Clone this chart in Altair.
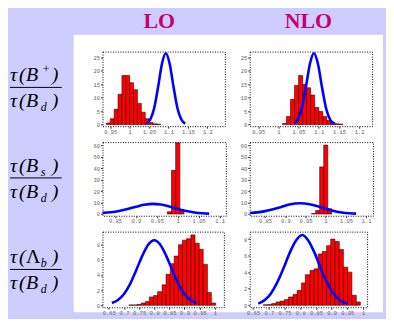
import altair as alt
import pandas as pd

# ---------------- data ----------------
# Row 1 : tau(B+)/tau(Bd)
bp_lo_start = [0.94, 0.95, 0.96, 0.97, 0.98, 0.99, 1.00, 1.01, 1.02, 1.03, 1.04, 1.05, 1.06, 1.07]
bp_lo_count = [0.6, 2.2, 5.7, 11.3, 18.3, 18.3, 15.6, 13.0, 7.9, 4.6, 2.2, 0.8, 0.3, 0.2]
bp_lo_cx = [1.044, 1.053, 1.063, 1.073, 1.083, 1.093, 1.103, 1.113, 1.123, 1.133, 1.143]
bp_lo_cy = [0.4, 1.9, 6.1, 13.9, 22.6, 26.6, 22.6, 13.9, 6.1, 1.9, 0.4]

bp_nlo_start = [1.01, 1.02, 1.03, 1.04, 1.05, 1.06, 1.07, 1.08, 1.09, 1.10, 1.11, 1.12, 1.13, 1.14, 1.15]
bp_nlo_count = [0.4, 3.0, 9.4, 14.6, 18.3, 15.0, 13.7, 11.0, 6.4, 4.9, 3.0, 1.5, 0.9, 0.3, 0.2]
bp_nlo_cx = [1.039, 1.048, 1.058, 1.068, 1.078, 1.088, 1.098, 1.108, 1.118, 1.128, 1.138]
bp_nlo_cy = [0.4, 1.9, 6.1, 13.9, 22.6, 26.6, 22.6, 13.9, 6.1, 1.9, 0.4]

# Row 2 : tau(Bs)/tau(Bd)
bs_lo_start = [0.975, 0.985, 0.995, 1.005]
bs_lo_count = [2.0, 38.0, 62.0, 4.0]
bs_lo_cx = [0.82, 0.84, 0.86, 0.88, 0.90, 0.92, 0.94, 0.96, 0.98, 1.00, 1.02, 1.04, 1.06, 1.075]
bs_lo_cy = [1.0, 1.6, 2.7, 4.3, 6.3, 8.0, 8.8, 8.2, 6.6, 4.4, 2.6, 1.3, 0.6, 0.3]

bs_nlo_start = [0.965, 0.975, 0.985, 0.995, 1.005]
bs_nlo_count = [0.5, 3.0, 41.0, 60.0, 4.5]
bs_nlo_cx = [0.813, 0.83, 0.85, 0.87, 0.89, 0.91, 0.936, 0.96, 0.98, 1.00, 1.02, 1.04, 1.06, 1.075]
bs_nlo_cy = [0.8, 1.4, 2.5, 4.1, 6.1, 8.2, 9.3, 8.5, 6.8, 4.6, 2.7, 1.3, 0.6, 0.3]

# Row 3 : tau(Lambda_b)/tau(Bd)
lb_lo_start = [0.716, 0.730, 0.743, 0.757, 0.771, 0.784, 0.798, 0.811, 0.826, 0.839, 0.853,
               0.866, 0.880, 0.893, 0.907, 0.921, 0.935, 0.948, 0.962, 0.975, 0.989]
lb_lo_count = [0.05, 0.05, 0.1, 0.3, 0.5, 1.1, 1.3, 1.8, 2.7, 4.1, 5.5,
               6.5, 8.0, 8.6, 8.8, 9.3, 8.2, 7.4, 5.4, 1.7, 0.3]
lb_lo_cx = [0.66, 0.68, 0.70, 0.72, 0.74, 0.76, 0.78, 0.80, 0.82, 0.84, 0.86, 0.88, 0.90, 0.92, 0.94]
lb_lo_cy = [0.3, 0.7, 1.5, 2.8, 4.6, 6.5, 8.0, 8.6, 8.0, 6.5, 4.6, 2.8, 1.5, 0.7, 0.3]

lb_nlo_start = [0.682, 0.696, 0.709, 0.723, 0.736, 0.750, 0.763, 0.777, 0.790, 0.804, 0.816,
                0.831, 0.844, 0.857, 0.870, 0.884, 0.897, 0.911, 0.924, 0.938, 0.951, 0.965, 0.978]
lb_nlo_count = [0.05, 0.1, 0.2, 0.4, 0.5, 0.7, 1.0, 1.3, 1.8, 2.7, 3.7,
                4.2, 4.4, 6.2, 6.5, 7.2, 8.0, 7.7, 6.75, 4.6, 4.0, 1.2, 0.4]
lb_nlo_cx = [0.666, 0.686, 0.706, 0.726, 0.746, 0.766, 0.786, 0.806, 0.826, 0.846, 0.866, 0.886, 0.906, 0.926, 0.95]
lb_nlo_cy = [0.2, 0.6, 1.4, 2.7, 4.4, 6.3, 7.8, 8.5, 7.8, 6.3, 4.4, 2.7, 1.4, 0.6, 0.2]

# axis tick labels
ticks_bp = [0.95, 1.0, 1.05, 1.1, 1.15, 1.2]
ticks_bs = [0.85, 0.9, 0.95, 1.0, 1.05, 1.1]
ticks_lb = [0.65, 0.7, 0.75, 0.8, 0.85, 0.9, 0.95, 1.0]
yt_bp = [0, 5, 10, 15, 20, 25]
yt_bs = [0, 10, 20, 30, 40, 50, 60]
yt_lb = [0, 2, 4, 6, 8]

col_titles = ["LO", "NLO"]

LAV = "#cdcdff"
FRAME = alt.ViewBackground(stroke="#000000", strokeWidth=1, strokeDash=[1, 1.5])
NOFRAME = alt.ViewBackground(stroke="transparent")


def axis(vals):
    return alt.Axis(values=vals, format=".3~r", title=None, grid=False, domain=False,
                    ticks=True, tickSize=2, tickColor="#333", labelFont="Liberation Mono",
                    labelFontSize=5.5, labelColor="#666", labelPadding=1, zindex=1,
                    labelOverlap=False, labelFlush=False, labelBound=False)


def panel(starts, bw, counts, cx, cy, xdom, ydom, xt, yt, w, h):
    bars = pd.DataFrame({"x0": starts, "x1": [s + bw for s in starts], "c": counts,
                         "z": [0] * len(starts)})
    curve = pd.DataFrame({"x": cx, "y": cy})
    xs = alt.Scale(domain=xdom, nice=False, zero=False)
    ys = alt.Scale(domain=ydom, nice=False, zero=False)
    b = alt.Chart(bars).mark_rect(color="#ff0000", stroke="#3a0000", strokeWidth=0.6, clip=True).encode(
        x=alt.X("x0:Q", scale=xs, axis=axis(xt)), x2="x1:Q",
        y=alt.Y("c:Q", scale=ys, axis=axis(yt)), y2="z:Q")
    l = alt.Chart(curve).mark_line(color="#0000ff", strokeWidth=2.6, interpolate="monotone", clip=True).encode(
        x=alt.X("x:Q", scale=xs, axis=axis(xt)), y=alt.Y("y:Q", scale=ys, axis=axis(yt)))
    return alt.layer(b, l).properties(width=w, height=h, view=FRAME)


def frac(glyphs, line_y, h, extra=()):
    df = pd.DataFrame(glyphs, columns=["px", "py", "t", "fs", "it"])
    enc = dict(x=alt.X("px:Q", scale=None, axis=None), y=alt.Y("py:Q", scale=None, axis=None),
               text="t:N", size=alt.Size("fs:Q", scale=None, legend=None))
    it = alt.Chart(df).transform_filter("datum.it == 1").mark_text(
        font="Liberation Serif", fontStyle="italic", align="left", baseline="alphabetic",
        color="black").encode(**enc)
    up = alt.Chart(df).transform_filter("datum.it == 0").mark_text(
        font="Liberation Serif", align="left", baseline="alphabetic", color="black").encode(**enc)
    rule = alt.Chart(pd.DataFrame({"a": [0]})).mark_rule(color="black", strokeWidth=1).encode(
        x=alt.value(1), x2=alt.value(53), y=alt.value(line_y))
    return alt.layer(*extra, it, up, rule).properties(width=70, height=h, view=NOFRAME)


one = pd.DataFrame({"a": [0]})
bg = alt.Chart(one).mark_rect(color=LAV).encode(
    x=alt.value(0), x2=alt.value(378), y=alt.value(-42), y2=alt.value(267))
white = alt.Chart(one).mark_rect(color="#ffffff").encode(
    x=alt.value(65), x2=alt.value(376), y=alt.value(-17), y2=alt.value(262))
t_lo = alt.Chart(one).mark_text(text=col_titles[0], font="Liberation Serif", fontWeight="bold",
                                 fontSize=22, color="#c8006e", baseline="middle").encode(
    x=alt.value(151), y=alt.value(-31))
t_nlo = alt.Chart(one).mark_text(text=col_titles[1], font="Liberation Serif", fontWeight="bold",
                                  fontSize=22, color="#c8006e", baseline="middle").encode(
    x=alt.value(301), y=alt.value(-31))


def glyphs(nb, nsub, nsup, nsub_it, line_y):
    nb_y = line_y - 6
    db_y = line_y + 20
    g = [[1, nb_y, "\u03c4", 20, 1], [10, nb_y, "(", 20, 1]]
    g.append([17, nb_y, nb[0], 20, nb[1]])
    if nsup:
        g.append([34, nb_y - 8, nsup, 12, 0])
    if nsub:
        g.append([32, nb_y + 4, nsub, 12, nsub_it])
    g.append([43, nb_y, ")", 20, 1])
    g += [[1, db_y, "\u03c4", 20, 1], [10, db_y, "(", 20, 1], [17, db_y, "B", 20, 1],
          [32, db_y + 4, "d", 12, 1], [43, db_y, ")", 20, 1]]
    return g


lab1 = frac(glyphs(("B", 1), None, "+", 1, 36), 36, 75, extra=(bg, white, t_lo, t_nlo))
lab2 = frac(glyphs(("B", 1), "s", None, 1, 36), 36, 74)
lab3 = frac(glyphs(("\u039b", 0), "b", None, 1, 38), 38, 76)

p11 = panel(bp_lo_start, 0.01, bp_lo_count, bp_lo_cx, bp_lo_cy, [0.93, 1.245], [-0.6, 27.2], ticks_bp, yt_bp, 123, 75)
p12 = panel(bp_nlo_start, 0.01, bp_nlo_count, bp_nlo_cx, bp_nlo_cy, [0.929, 1.232], [-0.6, 27.2], ticks_bp, yt_bp, 123, 75)
p21 = panel(bs_lo_start, 0.01, bs_lo_count, bs_lo_cx, bs_lo_cy, [0.82, 1.115], [-1.5, 62.6], ticks_bs, yt_bs, 124, 74)
p22 = panel(bs_nlo_start, 0.01, bs_nlo_count, bs_nlo_cx, bs_nlo_cy, [0.812, 1.117], [-1.5, 62.6], ticks_bs, yt_bs, 124, 74)
p31 = panel(lb_lo_start, 0.0137, lb_lo_count, lb_lo_cx, lb_lo_cy, [0.629, 1.03], [-0.26, 9.73], ticks_lb, yt_lb, 122, 76)
p32 = panel(lb_nlo_start, 0.0135, lb_nlo_count, lb_nlo_cx, lb_nlo_cy, [0.639, 1.013], [-0.24, 8.9], ticks_lb, yt_lb, 118, 76)

chart = alt.concat(lab1, p11, p12, lab2, p21, p22, lab3, p31, p32, columns=3,
                   spacing={"row": 16, "column": 24}, bounds="flush").properties(
    background=LAV, padding=0).configure_axis(labelOverlap=False)

chart.save("out.html", embed_options={"renderer": "svg", "actions": False})
